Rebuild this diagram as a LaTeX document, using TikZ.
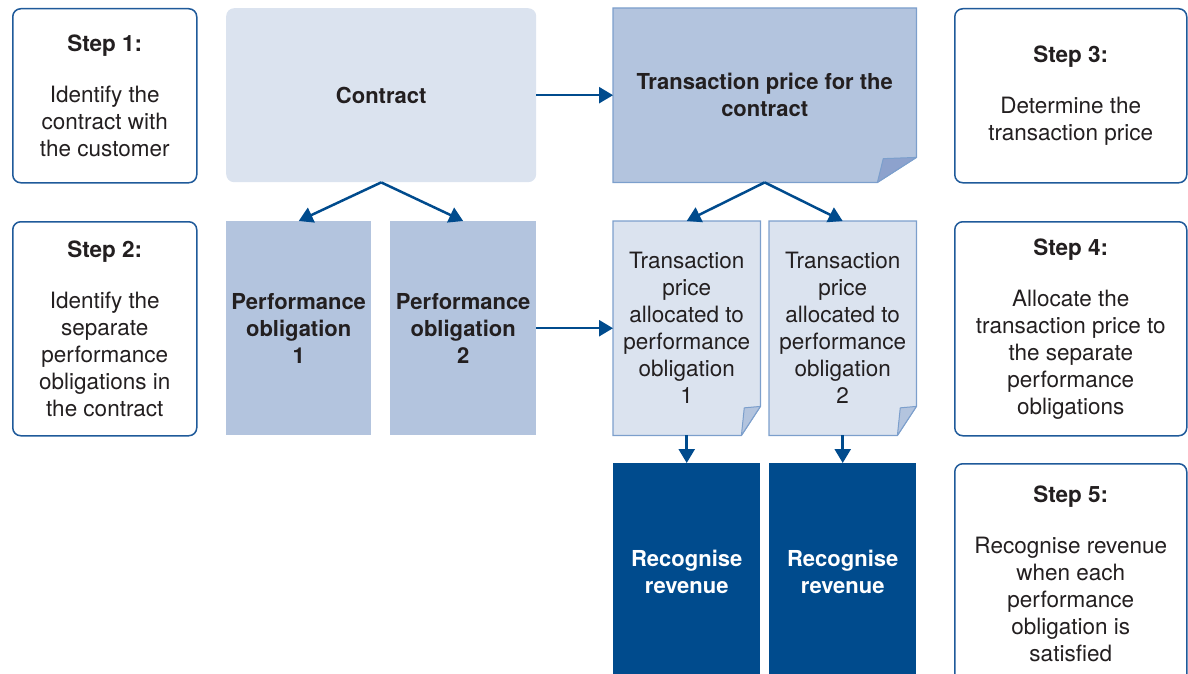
\documentclass[tikz,border=0pt]{standalone}
\usepackage{fontspec}
\setmainfont{TeX Gyre Heros}
\usetikzlibrary{arrows.meta,calc,backgrounds}
\definecolor{kblue}{HTML}{004B8D}
\definecolor{kline}{HTML}{1F5A9A}
\definecolor{kpale}{HTML}{DBE3EF}
\definecolor{kmid}{HTML}{B3C4DE}
\definecolor{kfold}{HTML}{8DA2CD}
\definecolor{kedge}{HTML}{7C9FCC}
\definecolor{ktext}{HTML}{231F20}
\newcommand{\foldbox}[5]{%
  \filldraw[fill=#2,draw=kedge,line width=1.2pt] (#1.north west) -- (#1.north east)
    -- ($(#1.south east)+(0,-#5)$) -- ($(#1.south east)+(-#4,0)$) -- (#1.south west) -- cycle;
  \filldraw[fill=#3,draw=kedge,line width=1pt,line join=round] ($(#1.south east)+(0,-#5)$)
    -- ($(#1.south east)+(-0.85*#4,-0.95*#5)$) -- ($(#1.south east)+(-#4,0)$) -- cycle;}

\begin{document}
\begin{tikzpicture}[x=1pt,y=-1pt,
    every node/.style={font=\fontsize{22.5}{27}\selectfont,text=ktext,align=center,inner sep=0pt,anchor=north west},
    stepbox/.style={draw=kline,line width=1.5pt,rounded corners=8pt,fill=white},
    boldtext/.style={font=\fontsize{22}{27}\selectfont\bfseries},
    midbox/.style={fill=kmid,boldtext},
    revbox/.style={fill=kblue,text=white,boldtext},
    arr/.style={draw=kblue,line width=2.5pt,-{Triangle[length=14pt,width=16pt]}}]
  \useasboundingbox (0,0) rectangle (1188,674);

  \node[stepbox,minimum width=184pt,minimum height=174pt] (s1) at (12,8)
    {\textbf{Step 1:}\\[24pt]Identify the\\contract with\\the customer};
  \node[stepbox,minimum width=184pt,minimum height=214pt] (s2) at (12,221)
    {\textbf{Step 2:}\\[24pt]Identify the\\separate\\performance\\obligations in\\the contract};
  \node[stepbox,minimum width=232pt,minimum height=174pt] (s3) at (954,8)
    {\textbf{Step 3:}\\[24pt]Determine the\\transaction price};
  \node[stepbox,minimum width=232pt,minimum height=214pt] (s4) at (954,221)
    {\textbf{Step 4:}\\[24pt]Allocate the\\transaction price to\\the separate\\performance\\obligations};
  \node[stepbox,minimum width=232pt,minimum height=220pt] (s5) at (954,463)
    {\textbf{Step 5:}\\[24pt]Recognise revenue\\when each\\performance\\obligation is\\satisfied};

  \node[fill=kpale,rounded corners=8pt,minimum width=310pt,minimum height=174pt,boldtext] (contract) at (226,8) {Contract};
  \node[minimum width=303pt,minimum height=174pt,boldtext] (tp) at (613,8) {Transaction price for the\\contract};

  \node[midbox,minimum width=145pt,minimum height=214pt] (po1) at (226,221) {Performance\\obligation\\1};
  \node[midbox,minimum width=146pt,minimum height=214pt] (po2) at (390,221) {Performance\\obligation\\2};

  \node[minimum width=147pt,minimum height=214pt] (tpa1) at (613,221) {Transaction\\price\\allocated to\\performance\\obligation\\1};
  \node[minimum width=147pt,minimum height=214pt] (tpa2) at (769,221) {Transaction\\price\\allocated to\\performance\\obligation\\2};

  \node[revbox,minimum width=147pt,minimum height=217pt] (rr1) at (613,463) {Recognise\\revenue};
  \node[revbox,minimum width=147pt,minimum height=217pt] (rr2) at (769,463) {Recognise\\revenue};

  \begin{scope}[on background layer]
    \foldbox{tp}{kmid}{kfold}{39}{25}
    \foldbox{tpa1}{kpale}{kmid}{19}{29}
    \foldbox{tpa2}{kpale}{kmid}{19}{29}
  \end{scope}

  \draw[arr] (contract.east) -- (tp.west);
  \draw[arr] (contract.south) -- (po1.north);
  \draw[arr] (contract.south) -- (po2.north);
  \draw[arr] (tp.south) -- (tpa1.north);
  \draw[arr] (tp.south) -- (tpa2.north);
  \draw[arr] (po2.east) -- (tpa1.west);
  \draw[arr] (tpa1.south) -- (rr1.north);
  \draw[arr] (tpa2.south) -- (rr2.north);
\end{tikzpicture}
\end{document}
